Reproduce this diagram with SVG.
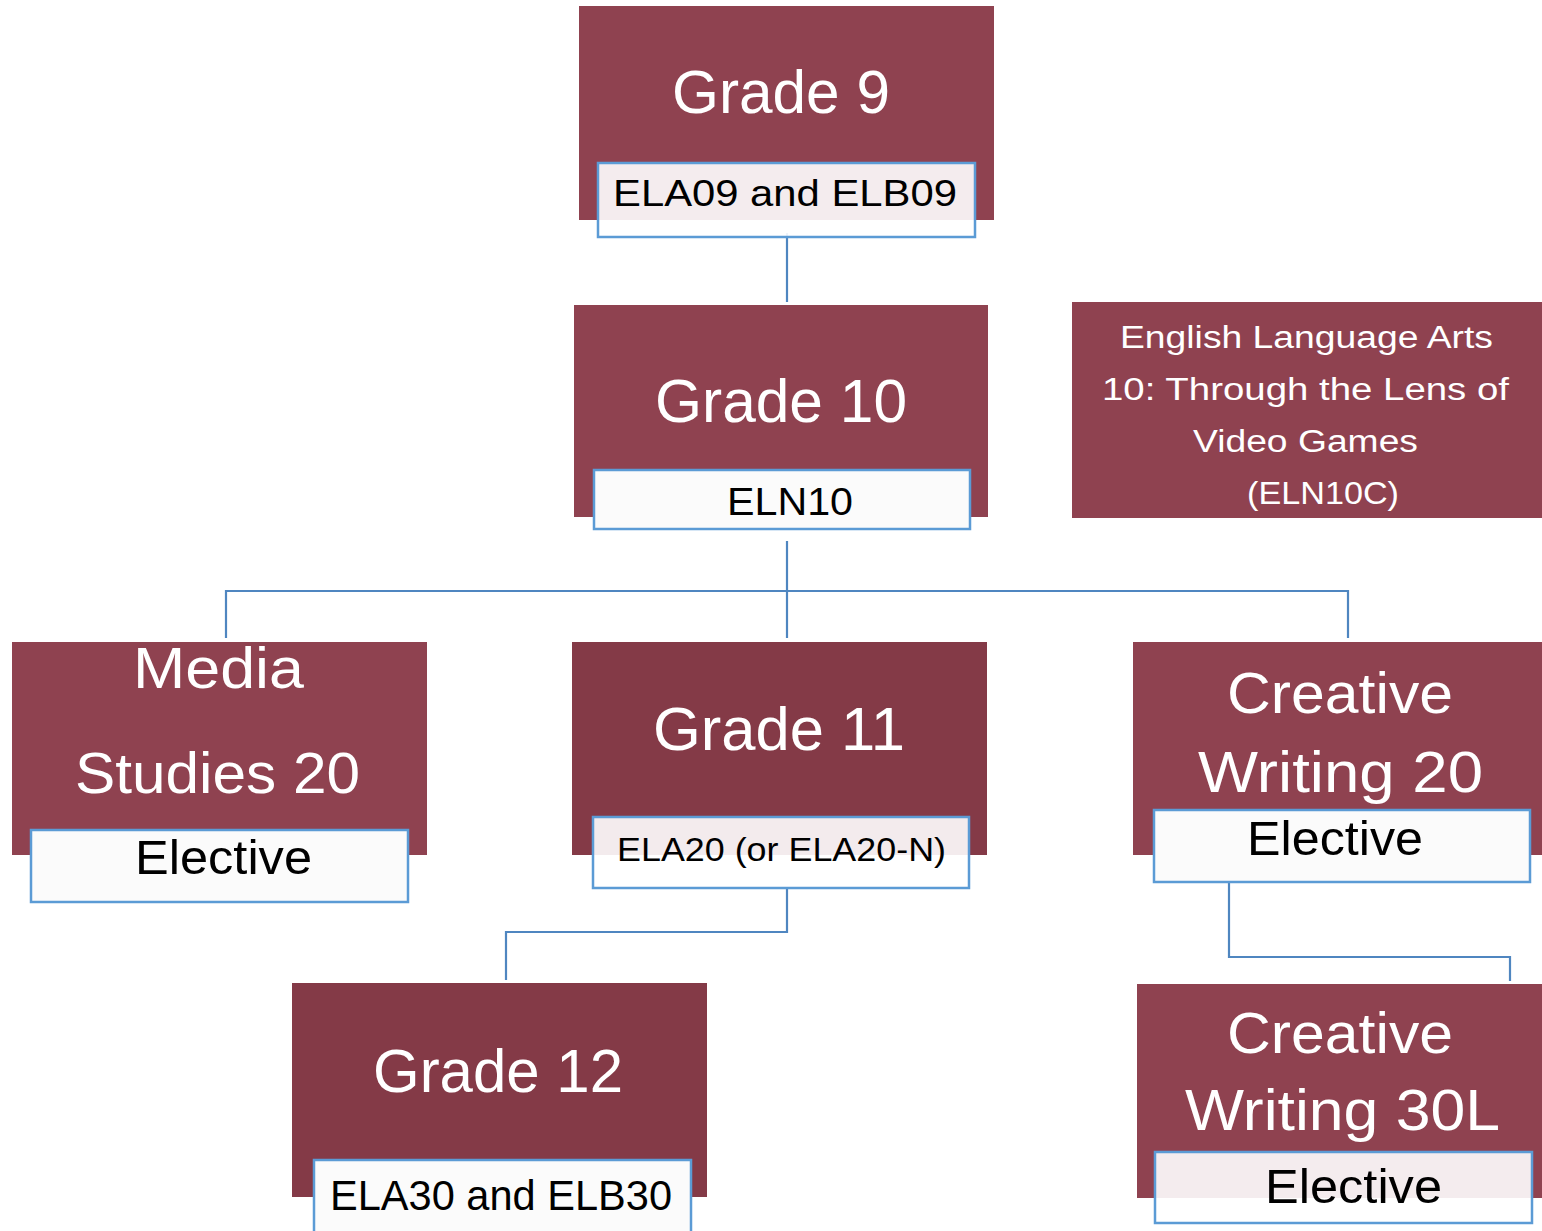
<svg xmlns="http://www.w3.org/2000/svg" width="1542" height="1231" viewBox="0 0 1542 1231">
<style>
.box{fill:#8F4250}
.dark{fill:#843A47}
.sub{fill:#FFFFFF;fill-opacity:0.9;stroke:#5B9BD5;stroke-width:2.5}
.subw{fill:#FBFBFB;stroke:#5B9BD5;stroke-width:2.5}
.t{font-family:"Liberation Sans",Arial,sans-serif;fill:#FFFFFF}
.k{font-family:"Liberation Sans",Arial,sans-serif;fill:#000000}
.conn{fill:none;stroke:#4F86C0;stroke-width:2.2}
</style>
<rect width="1542" height="1231" fill="#FFFFFF"/>
<g id="connectors">
<path class="conn" d="M787,233 V302"/>
<path class="conn" d="M787,541 V638"/>
<path class="conn" d="M226,638 V591 H1348 V638"/>
<path class="conn" d="M787,888 V932 H506 V980"/>
<path class="conn" d="M1229,882 V957 H1510 V981"/>
</g>
<g id="grade9">
<rect class="box" x="579" y="6" width="415" height="214"/>
<text class="t" x="672" y="113" font-size="62" textLength="218" lengthAdjust="spacingAndGlyphs">Grade 9</text>
<rect class="sub" x="598" y="163" width="377" height="74"/>
<text class="k" x="613" y="206" font-size="37" textLength="344" lengthAdjust="spacingAndGlyphs">ELA09 and ELB09</text>
</g>
<g id="grade10">
<rect class="box" x="574" y="305" width="414" height="212"/>
<text class="t" x="655" y="422" font-size="62" textLength="252" lengthAdjust="spacingAndGlyphs">Grade 10</text>
<rect class="subw" x="594" y="470" width="376" height="59"/>
<text class="k" x="727" y="515" font-size="39" textLength="126" lengthAdjust="spacingAndGlyphs">ELN10</text>
</g>
<g id="eln10c">
<rect class="box" x="1072" y="302" width="470" height="216"/>
<text class="t" x="1120" y="348" font-size="31" textLength="373" lengthAdjust="spacingAndGlyphs">English Language Arts</text>
<text class="t" x="1102" y="400" font-size="31" textLength="407" lengthAdjust="spacingAndGlyphs">10: Through the Lens of</text>
<text class="t" x="1193" y="452" font-size="31" textLength="225" lengthAdjust="spacingAndGlyphs">Video Games</text>
<text class="t" x="1247" y="504" font-size="31" textLength="152" lengthAdjust="spacingAndGlyphs">(ELN10C)</text>
</g>
<g id="media20">
<rect class="box" x="12" y="642" width="415" height="213"/>
<text class="t" x="133" y="688" font-size="58" textLength="171" lengthAdjust="spacingAndGlyphs">Media</text>
<text class="t" x="75" y="793" font-size="58" textLength="285" lengthAdjust="spacingAndGlyphs">Studies 20</text>
<rect class="subw" x="31" y="830" width="377" height="72"/>
<text class="k" x="135" y="874" font-size="49" textLength="177" lengthAdjust="spacingAndGlyphs">Elective</text>
</g>
<g id="grade11">
<rect class="dark" x="572" y="642" width="415" height="213"/>
<text class="t" x="653" y="750" font-size="62" textLength="252" lengthAdjust="spacingAndGlyphs">Grade 11</text>
<rect class="sub" x="593" y="817" width="376" height="71"/>
<text class="k" x="617" y="861" font-size="34" textLength="329" lengthAdjust="spacingAndGlyphs">ELA20 (or ELA20-N)</text>
</g>
<g id="cw20">
<rect class="box" x="1133" y="642" width="409" height="213"/>
<text class="t" x="1227" y="713" font-size="58" textLength="226" lengthAdjust="spacingAndGlyphs">Creative</text>
<text class="t" x="1198" y="792" font-size="58" textLength="285" lengthAdjust="spacingAndGlyphs">Writing 20</text>
<rect class="subw" x="1154" y="810" width="376" height="72"/>
<text class="k" x="1247" y="855" font-size="49" textLength="176" lengthAdjust="spacingAndGlyphs">Elective</text>
</g>
<g id="grade12">
<rect class="dark" x="292" y="983" width="415" height="214"/>
<text class="t" x="373" y="1092" font-size="62" textLength="250" lengthAdjust="spacingAndGlyphs">Grade 12</text>
<rect class="subw" x="314" y="1160" width="377" height="75"/>
<text class="k" x="330" y="1210" font-size="42" textLength="342" lengthAdjust="spacingAndGlyphs">ELA30 and ELB30</text>
</g>
<g id="cw30l">
<rect class="box" x="1137" y="984" width="405" height="214"/>
<text class="t" x="1227" y="1053" font-size="58" textLength="226" lengthAdjust="spacingAndGlyphs">Creative</text>
<text class="t" x="1185" y="1130" font-size="58" textLength="315" lengthAdjust="spacingAndGlyphs">Writing 30L</text>
<rect class="sub" x="1155" y="1152" width="377" height="71"/>
<text class="k" x="1265" y="1203" font-size="49" textLength="177" lengthAdjust="spacingAndGlyphs">Elective</text>
</g>
</svg>
